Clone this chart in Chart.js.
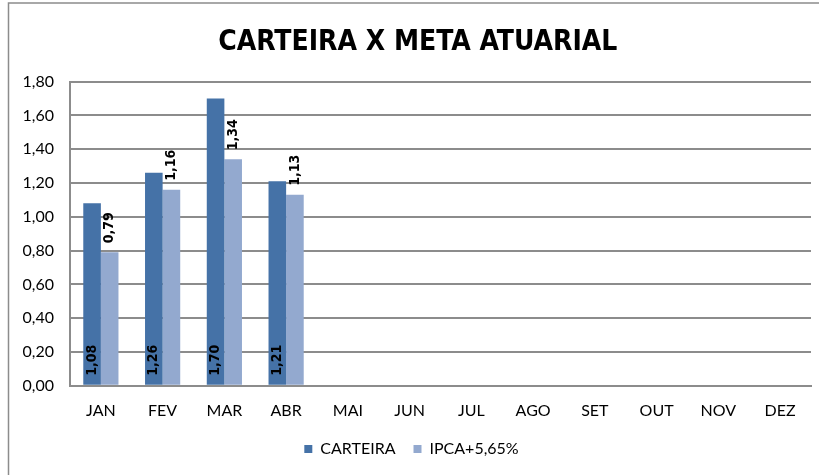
<!DOCTYPE html>
<html lang="pt">

<head>
    <meta charset="UTF-8">
    <title>Carteira x Meta Atuarial</title>
    <script src="https://cdn.jsdelivr.net/npm/chart.js"></script>
    <style>
        body { margin: 0; background: #fff; }
        #wrap { position: absolute; left: 0; top: 0; width: 819px; height: 475px; }
    </style>
</head>

<body>
    <div id="wrap">
        <canvas id="myChart"></canvas>
    </div>

    <script>
        // dados
        const meses = ['JAN', 'FEV', 'MAR', 'ABR', 'MAI', 'JUN', 'JUL', 'AGO', 'SET', 'OUT', 'NOV', 'DEZ'];
        const carteira = [1.08, 1.26, 1.70, 1.21, null, null, null, null, null, null, null, null];
        const ipca = [0.79, 1.16, 1.34, 1.13, null, null, null, null, null, null, null, null];
        const yTicks = [0, 0.2, 0.4, 0.6, 0.8, 1.0, 1.2, 1.4, 1.6, 1.8];

        const fmt = (v) => v.toFixed(2).replace('.', ',');
        const TITLE_FONT = "'DejaVu Sans Condensed', 'Open Sans', sans-serif";
        const FONT = "Lato, 'Open Sans', sans-serif";

        // borda externa
        const frame = {
            id: 'frame',
            beforeDraw(chart) {
                const c = chart.ctx;
                c.save();
                c.strokeStyle = '#8c8c8c';
                c.lineWidth = 1.5;
                c.beginPath();
                c.moveTo(8.5, 480);
                c.lineTo(8.5, 3);
                c.lineTo(830, 3);
                c.stroke();
                c.restore();
            }
        };

        // rotulos de dados (vertical)
        const rotulos = {
            id: 'rotulos',
            afterDatasetsDraw(chart) {
                const c = chart.ctx;
                c.save();
                c.fillStyle = '#000';
                c.font = "bold 14px " + TITLE_FONT;
                c.textAlign = 'left';
                c.textBaseline = 'middle';
                chart.data.datasets.forEach((ds, i) => {
                    const meta = chart.getDatasetMeta(i);
                    meta.data.forEach((bar, j) => {
                        const v = ds.data[j];
                        if (v === null) return;
                        const y = i === 0 ? bar.base - 9 : bar.y - 9;
                        c.save();
                        c.translate(bar.x, y);
                        c.rotate(-Math.PI / 2);
                        c.fillText(fmt(v), 0, 0);
                        c.restore();
                    });
                });
                c.restore();
            }
        };

        const ctx = document.getElementById('myChart');

        new Chart(ctx, {
            type: 'bar',
            data: {
                labels: meses,
                datasets: [
                    {
                        label: 'CARTEIRA',
                        data: carteira,
                        backgroundColor: '#4572A7',
                        categoryPercentage: 0.57,
                        barPercentage: 1.0,
                    },
                    {
                        label: 'IPCA+5,65%',
                        data: ipca,
                        backgroundColor: '#93A9CF',
                        categoryPercentage: 0.57,
                        barPercentage: 1.0,
                    },
                ]
            },
            options: {
                responsive: true,
                maintainAspectRatio: false,
                animation: false,
                layout: {
                    padding: { left: 12, right: 8, top: 12, bottom: 8 }
                },
                plugins: {
                    title: {
                        display: true,
                        // espaco inicial para deslocar o titulo um pouco a direita
                        text: '\u2002CARTEIRA X META ATUARIAL',
                        color: '#000',
                        font: { family: TITLE_FONT, size: 28, weight: 'bold' },
                        padding: { top: 14, bottom: 22 }
                    },
                    legend: {
                        position: 'bottom',
                        labels: {
                            color: '#000',
                            font: { family: FONT, size: 16 },
                            boxWidth: 8,
                            boxHeight: 8,
                            padding: 6,
                            // espaco extra entre os itens
                            generateLabels: (chart) => Chart.defaults.plugins.legend.labels.generateLabels(chart)
                                .map((l, i) => { if (i === 0) l.text += '\u2003'; return l; }),
                        }
                    },
                    tooltip: { enabled: false },
                },
                scales: {
                    x: {
                        grid: { display: false, drawTicks: false },
                        border: { color: '#8c8c8c', width: 2 },
                        ticks: {
                            color: '#000',
                            font: { family: FONT, size: 16 },
                            padding: 15,
                        }
                    },
                    y: {
                        min: 0,
                        max: 1.8,
                        afterBuildTicks: (axis) => { axis.ticks = yTicks.map(v => ({ value: v })); },
                        afterFit: (axis) => { axis.width = 58; },
                        grid: { color: '#8c8c8c', lineWidth: 2, drawTicks: false },
                        border: { color: '#8c8c8c', width: 2 },
                        ticks: {
                            color: '#000',
                            font: { family: FONT, size: 16 },
                            padding: 16,
                            callback: (v) => fmt(v),
                        }
                    }
                }
            },
            plugins: [frame, rotulos]
        });
    </script>
</body>

</html>
